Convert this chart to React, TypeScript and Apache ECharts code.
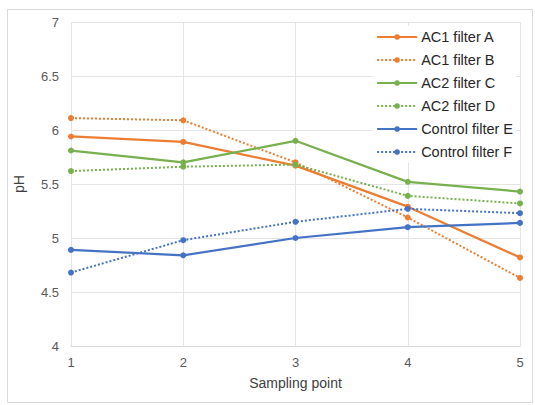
import React, { useEffect, useRef } from "react";
import * as echarts from "echarts";

const categories = ["1", "2", "3", "4", "5"];
const yTicks = [4, 4.5, 5, 5.5, 6, 6.5, 7];
const acFilterA = [5.94, 5.89, 5.67, 5.29, 4.82];
const acFilterB = [6.11, 6.09, 5.7, 5.19, 4.63];
const ac2FilterC = [5.81, 5.7, 5.9, 5.52, 5.43];
const ac2FilterD = [5.62, 5.66, 5.68, 5.39, 5.32];
const controlE = [4.89, 4.84, 5.0, 5.1, 5.14];
const controlF = [4.68, 4.98, 5.15, 5.27, 5.23];

const ORANGE = "#ED7D31";
const GREEN = "#78B04E";
const BLUE = "#4472C4";

const seriesDefs = [
  { name: "AC1 filter A", data: acFilterA, color: ORANGE, dashed: false },
  { name: "AC1 filter B", data: acFilterB, color: ORANGE, dashed: true },
  { name: "AC2 filter C", data: ac2FilterC, color: GREEN, dashed: false },
  { name: "AC2 filter D", data: ac2FilterD, color: GREEN, dashed: true },
  { name: "Control filter E", data: controlE, color: BLUE, dashed: false },
  { name: "Control filter F", data: controlF, color: BLUE, dashed: true },
];

export default function App() {
  const ref = useRef<HTMLDivElement>(null);
  useEffect(() => {
    if (!ref.current) return;
    const chart = echarts.init(ref.current, null, { renderer: "svg" });
    chart.setOption({
      animation: false,
      backgroundColor: "#ffffff",
      textStyle: { fontFamily: "Liberation Sans, Arial, sans-serif" },
      graphic: [
        {
          type: "rect",
          left: 5,
          top: 7,
          shape: { width: 525, height: 393 },
          style: { fill: "none", stroke: "#D9D9D9", lineWidth: 1 },
          silent: true,
          z: -1,
        },
      ],
      grid: { left: 71, right: 15, top: 22, bottom: 59, containLabel: false },
      legend: {
        right: 19,
        top: 26,
        orient: "vertical",
        itemGap: 7,
        itemWidth: 40,
        itemHeight: 7,
        backgroundColor: "#ffffff",
        padding: [3, 3, 3, 3],
        textStyle: { fontSize: 14.5, lineHeight: 16, color: "#262626", padding: [0, 0, 0, -1] },
        data: seriesDefs.map((s) => s.name),
      },
      xAxis: {
        type: "category",
        data: categories,
        boundaryGap: false,
        name: "Sampling point",
        nameLocation: "middle",
        nameGap: 30,
        nameTextStyle: { fontSize: 14, color: "#404040" },
        axisLine: { show: true, lineStyle: { color: "#D9D9D9" } },
        axisTick: { show: false },
        axisLabel: { fontSize: 13, color: "#595959", margin: 10 },
        splitLine: { show: true, lineStyle: { color: "#E4E4E4" } },
      },
      yAxis: {
        type: "value",
        min: yTicks[0],
        max: yTicks[yTicks.length - 1],
        interval: 0.5,
        name: "pH",
        nameLocation: "middle",
        nameGap: 45,
        nameTextStyle: { fontSize: 14, color: "#404040" },
        axisLine: { show: false },
        axisTick: { show: false },
        axisLabel: { fontSize: 13, color: "#595959", margin: 12 },
        splitLine: { show: true, lineStyle: { color: "#E4E4E4" } },
      },
      series: seriesDefs.map((s) => ({
        name: s.name,
        type: "line",
        data: s.data,
        symbol: "circle",
        symbolSize: 6,
        color: s.color,
        lineStyle: {
          color: s.color,
          width: s.dashed ? 2 : 2.25,
          type: s.dashed ? [2, 2] : "solid",
        },
        itemStyle: { color: s.color },
      })),
    });
    return () => chart.dispose();
  }, []);
  return <div ref={ref} style={{ width: 535, height: 405, position: "absolute", left: 0, top: 0 }} />;
}
